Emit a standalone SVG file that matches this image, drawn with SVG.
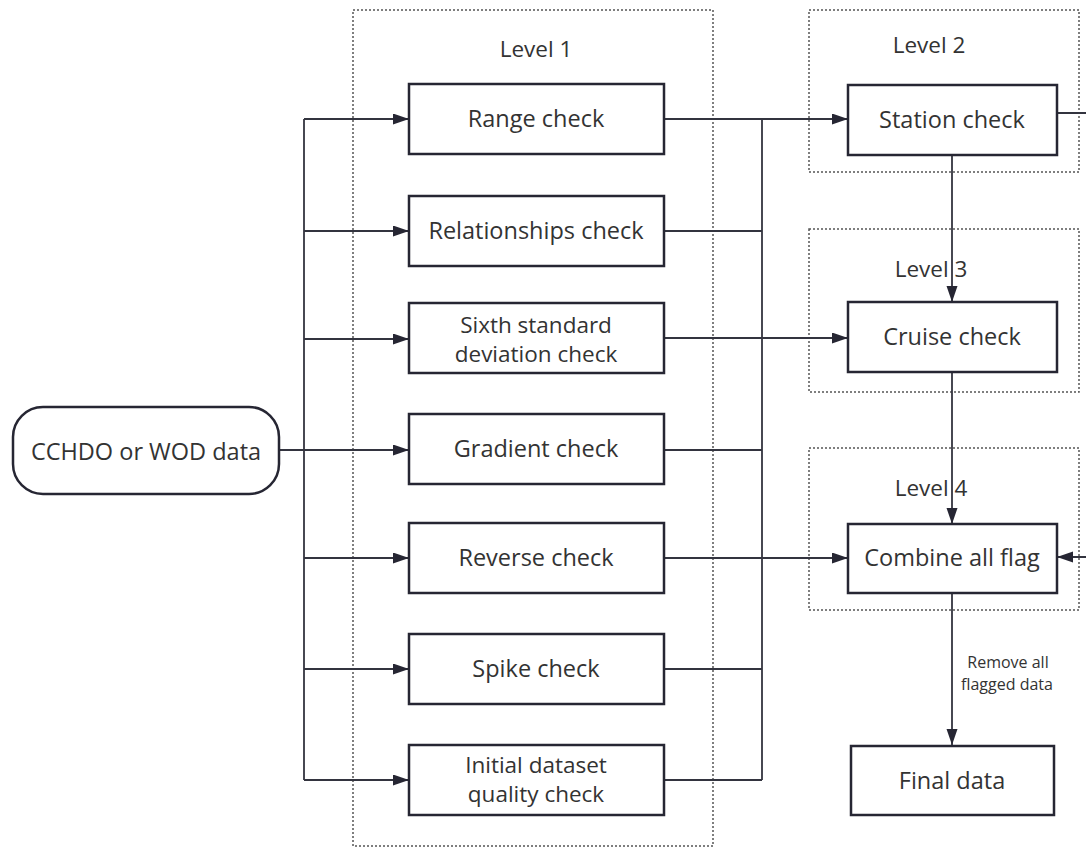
<svg xmlns="http://www.w3.org/2000/svg" width="1086" height="847" viewBox="0 0 1086 847">
<style>
.node{fill:#fff;stroke:#262633;stroke-width:2.5}
.lvl{fill:none;stroke:#555;stroke-width:1.5;stroke-dasharray:2 2}
.t{font-family:"Open Sans","Noto Sans",sans-serif;font-size:23.5px;fill:#333;text-anchor:middle}
.t2{font-family:"Open Sans","Noto Sans",sans-serif;font-size:22.5px;fill:#333;text-anchor:middle}
.lt{font-family:"Open Sans","Noto Sans",sans-serif;font-size:22.5px;fill:#333;text-anchor:middle}
.s{font-family:"Open Sans","Noto Sans",sans-serif;font-size:16px;fill:#333;text-anchor:middle}
.c{fill:none;stroke:#33343f;stroke-width:1.8}
</style>
<defs>
<marker id="arr" markerUnits="userSpaceOnUse" markerWidth="17" markerHeight="12" refX="16" refY="5.5" orient="auto">
<path d="M0,0 L16,5.5 L0,11 z" fill="#262633"/>
</marker>
</defs>
<rect width="1086" height="847" fill="#fff"/>
<g id="levels">
<rect class="lvl" x="353" y="10" width="360" height="836"/>
<rect class="lvl" x="809" y="10" width="270" height="162"/>
<rect class="lvl" x="809" y="229" width="270" height="163"/>
<rect class="lvl" x="809" y="448" width="270" height="162"/>
<text class="lt" x="536" y="57">Level 1</text>
<text class="lt" x="929" y="53">Level 2</text>
<text class="lt" x="931" y="277">Level 3</text>
<text class="lt" x="931" y="496">Level 4</text>
</g>
<g id="connectors">
<path class="c" d="M279,450 H409" marker-end="url(#arr)"/>
<path class="c" d="M304,119 V780"/>
<path class="c" d="M304,119 H409" marker-end="url(#arr)"/>
<path class="c" d="M304,231 H409" marker-end="url(#arr)"/>
<path class="c" d="M304,339 H409" marker-end="url(#arr)"/>
<path class="c" d="M304,558 H409" marker-end="url(#arr)"/>
<path class="c" d="M304,669 H409" marker-end="url(#arr)"/>
<path class="c" d="M304,780 H409" marker-end="url(#arr)"/>
<path class="c" d="M762,119 V780"/>
<path class="c" d="M664,231 H762"/>
<path class="c" d="M664,450 H762"/>
<path class="c" d="M664,669 H762"/>
<path class="c" d="M664,780 H762"/>
<path class="c" d="M664,119 H848" marker-end="url(#arr)"/>
<path class="c" d="M664,338 H848" marker-end="url(#arr)"/>
<path class="c" d="M664,558 H848" marker-end="url(#arr)"/>
<path class="c" d="M952,155 V302" marker-end="url(#arr)"/>
<path class="c" d="M952,372 V524" marker-end="url(#arr)"/>
<path class="c" d="M952,593 V745" marker-end="url(#arr)"/>
<path class="c" d="M1057,113 H1100 V557 H1057" marker-end="url(#arr)"/>
<text class="s" x="1008" y="668">Remove all</text>
<text class="s" x="1007" y="690">flagged data</text>
</g>
<g id="source">
<rect class="node" x="13" y="407" width="266" height="87" rx="30" ry="30"/>
<text class="t" x="146" y="460">CCHDO or WOD data</text>
</g>
<g id="range">
<rect class="node" x="409" y="84" width="255" height="70"/>
<text class="t" x="536" y="127">Range check</text>
</g>
<g id="relationships">
<rect class="node" x="409" y="196" width="255" height="70"/>
<text class="t" x="536" y="239">Relationships check</text>
</g>
<g id="sixth">
<rect class="node" x="409" y="303" width="255" height="70"/>
<text class="t2" x="536" y="333">Sixth standard</text>
<text class="t2" x="536" y="362">deviation check</text>
</g>
<g id="gradient">
<rect class="node" x="409" y="414" width="255" height="70"/>
<text class="t" x="536" y="457">Gradient check</text>
</g>
<g id="reverse">
<rect class="node" x="409" y="523" width="255" height="70"/>
<text class="t" x="536" y="566">Reverse check</text>
</g>
<g id="spike">
<rect class="node" x="409" y="634" width="255" height="70"/>
<text class="t" x="536" y="677">Spike check</text>
</g>
<g id="initial">
<rect class="node" x="409" y="745" width="255" height="70"/>
<text class="t2" x="536" y="773">Initial dataset</text>
<text class="t2" x="536" y="802">quality check</text>
</g>
<g id="station">
<rect class="node" x="848" y="85" width="209" height="70"/>
<text class="t" x="952" y="128">Station check</text>
</g>
<g id="cruise">
<rect class="node" x="848" y="302" width="209" height="70"/>
<text class="t" x="952" y="345">Cruise check</text>
</g>
<g id="combine">
<rect class="node" x="848" y="524" width="209" height="69"/>
<text class="t" x="952" y="566">Combine all flag</text>
</g>
<g id="final">
<rect class="node" x="851" y="746" width="203" height="69"/>
<text class="t" x="952" y="789">Final data</text>
</g>
</svg>
